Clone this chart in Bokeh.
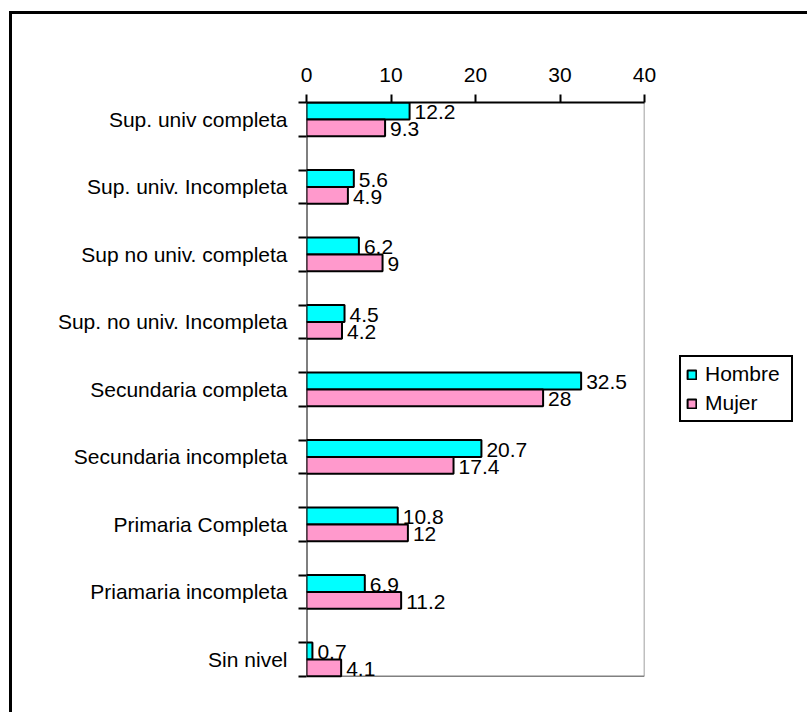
from bokeh.plotting import figure
from bokeh.models import (Range1d, FixedTicker, Legend, LegendItem, ColumnDataSource)
from bokeh.core.properties import value
from bokeh.embed import file_html
from bokeh.resources import INLINE

categories = ["Sup. univ completa", "Sup. univ. Incompleta", "Sup no univ. completa",
              "Sup. no univ. Incompleta", "Secundaria completa", "Secundaria incompleta",
              "Primaria Completa", "Priamaria incompleta", "Sin nivel"]
hombre = [12.2, 5.6, 6.2, 4.5, 32.5, 20.7, 10.8, 6.9, 0.7]
mujer = [9.3, 4.9, 9.0, 4.2, 28.0, 17.4, 12.0, 11.2, 4.1]
x_ticks = [0, 10, 20, 30, 40]

FONT = "Liberation Sans"
FS = "21px"

n = len(categories)
idx = list(range(n))
y_top = -0.25
y_bot = n - 0.75          # bottom of the category area
y_extra = y_bot + 0.15    # a little room so the last labels are not clipped

src_h = ColumnDataSource(dict(y=[i - 0.125 for i in idx], right=hombre,
                              ly=[float(i) for i in idx],
                              label=[f"{v:g}" for v in hombre]))
src_m = ColumnDataSource(dict(y=[i + 0.125 for i in idx], right=mujer,
                              ly=[i + 0.25 for i in idx],
                              label=[f"{v:g}" for v in mujer]))

p = figure(frame_width=338, frame_height=584, output_backend="svg", toolbar_location=None,
           x_axis_location="above",
           x_range=Range1d(0, 40), y_range=Range1d(y_extra, y_top),
           min_border_left=294, min_border_right=163,
           min_border_top=88, min_border_bottom=26)
p.margin = (11, 0, 0, 9)
p.styles = {"border-left": "3px solid black", "border-top": "3px solid black"}

p.background_fill_color = "white"
p.border_fill_color = "white"
p.outline_line_color = None
p.xgrid.visible = False
p.ygrid.visible = False

# gray right/bottom frame lines and black left axis line
p.segment(x0=[40, 0], y0=[y_top, y_bot], x1=[40, 40], y1=[y_bot, y_bot],
          line_color="#808080", line_width=1.5)
p.segment(x0=[0], y0=[y_top], x1=[0], y1=[y_bot], line_color="black", line_width=2)

rh = p.hbar(y="y", left=0, right="right", height=0.25, source=src_h,
            fill_color="#00FFFF", line_color="black", line_width=2)
rm = p.hbar(y="y", left=0, right="right", height=0.25, source=src_m,
            fill_color="#FF99CC", line_color="black", line_width=2)

for src in (src_h, src_m):
    p.text(x="right", y="ly", text="label", source=src, x_offset=5, y_offset=-7,
           text_baseline="alphabetic", text_align="left",
           text_font=value(FONT), text_font_size=FS, text_color="black")

xa = p.xaxis[0]
xa.ticker = FixedTicker(ticks=x_ticks, minor_ticks=[])
xa.axis_line_width = 2
xa.axis_line_color = "black"
xa.major_tick_line_width = 2
xa.major_tick_line_color = "black"
xa.major_tick_in = 0
xa.major_tick_out = 8
xa.minor_tick_line_color = None
xa.major_label_text_font = FONT
xa.major_label_text_font_size = FS
xa.major_label_text_color = "black"
xa.major_label_standoff = 13

ya = p.yaxis[0]
ya.ticker = FixedTicker(ticks=idx,
                        minor_ticks=sorted([i - 0.25 for i in idx] + [i + 0.25 for i in idx]))
ya.major_label_overrides = {i: c for i, c in zip(idx, categories)}
ya.axis_line_color = None
ya.major_tick_in = 0
ya.major_tick_out = 0
ya.major_tick_line_color = None
ya.minor_tick_in = 0
ya.minor_tick_out = 8
ya.minor_tick_line_width = 2
ya.minor_tick_line_color = "black"
ya.major_label_text_font = FONT
ya.major_label_text_font_size = FS
ya.major_label_text_color = "black"
ya.major_label_standoff = 11

legend = Legend(items=[LegendItem(label="Hombre", renderers=[rh]),
                       LegendItem(label="Mujer", renderers=[rm])],
                location=(35, 264), orientation="vertical", margin=0,
                label_text_font=FONT, label_text_font_size=FS,
                label_text_color="black", label_standoff=8, label_width=81,
                glyph_width=11, glyph_height=11, spacing=5, padding=5,
                border_line_color="black", border_line_width=2, border_line_alpha=1.0,
                background_fill_color="white", background_fill_alpha=1.0)
p.add_layout(legend, "right")

open("out.html", "w").write(file_html(p, INLINE))
